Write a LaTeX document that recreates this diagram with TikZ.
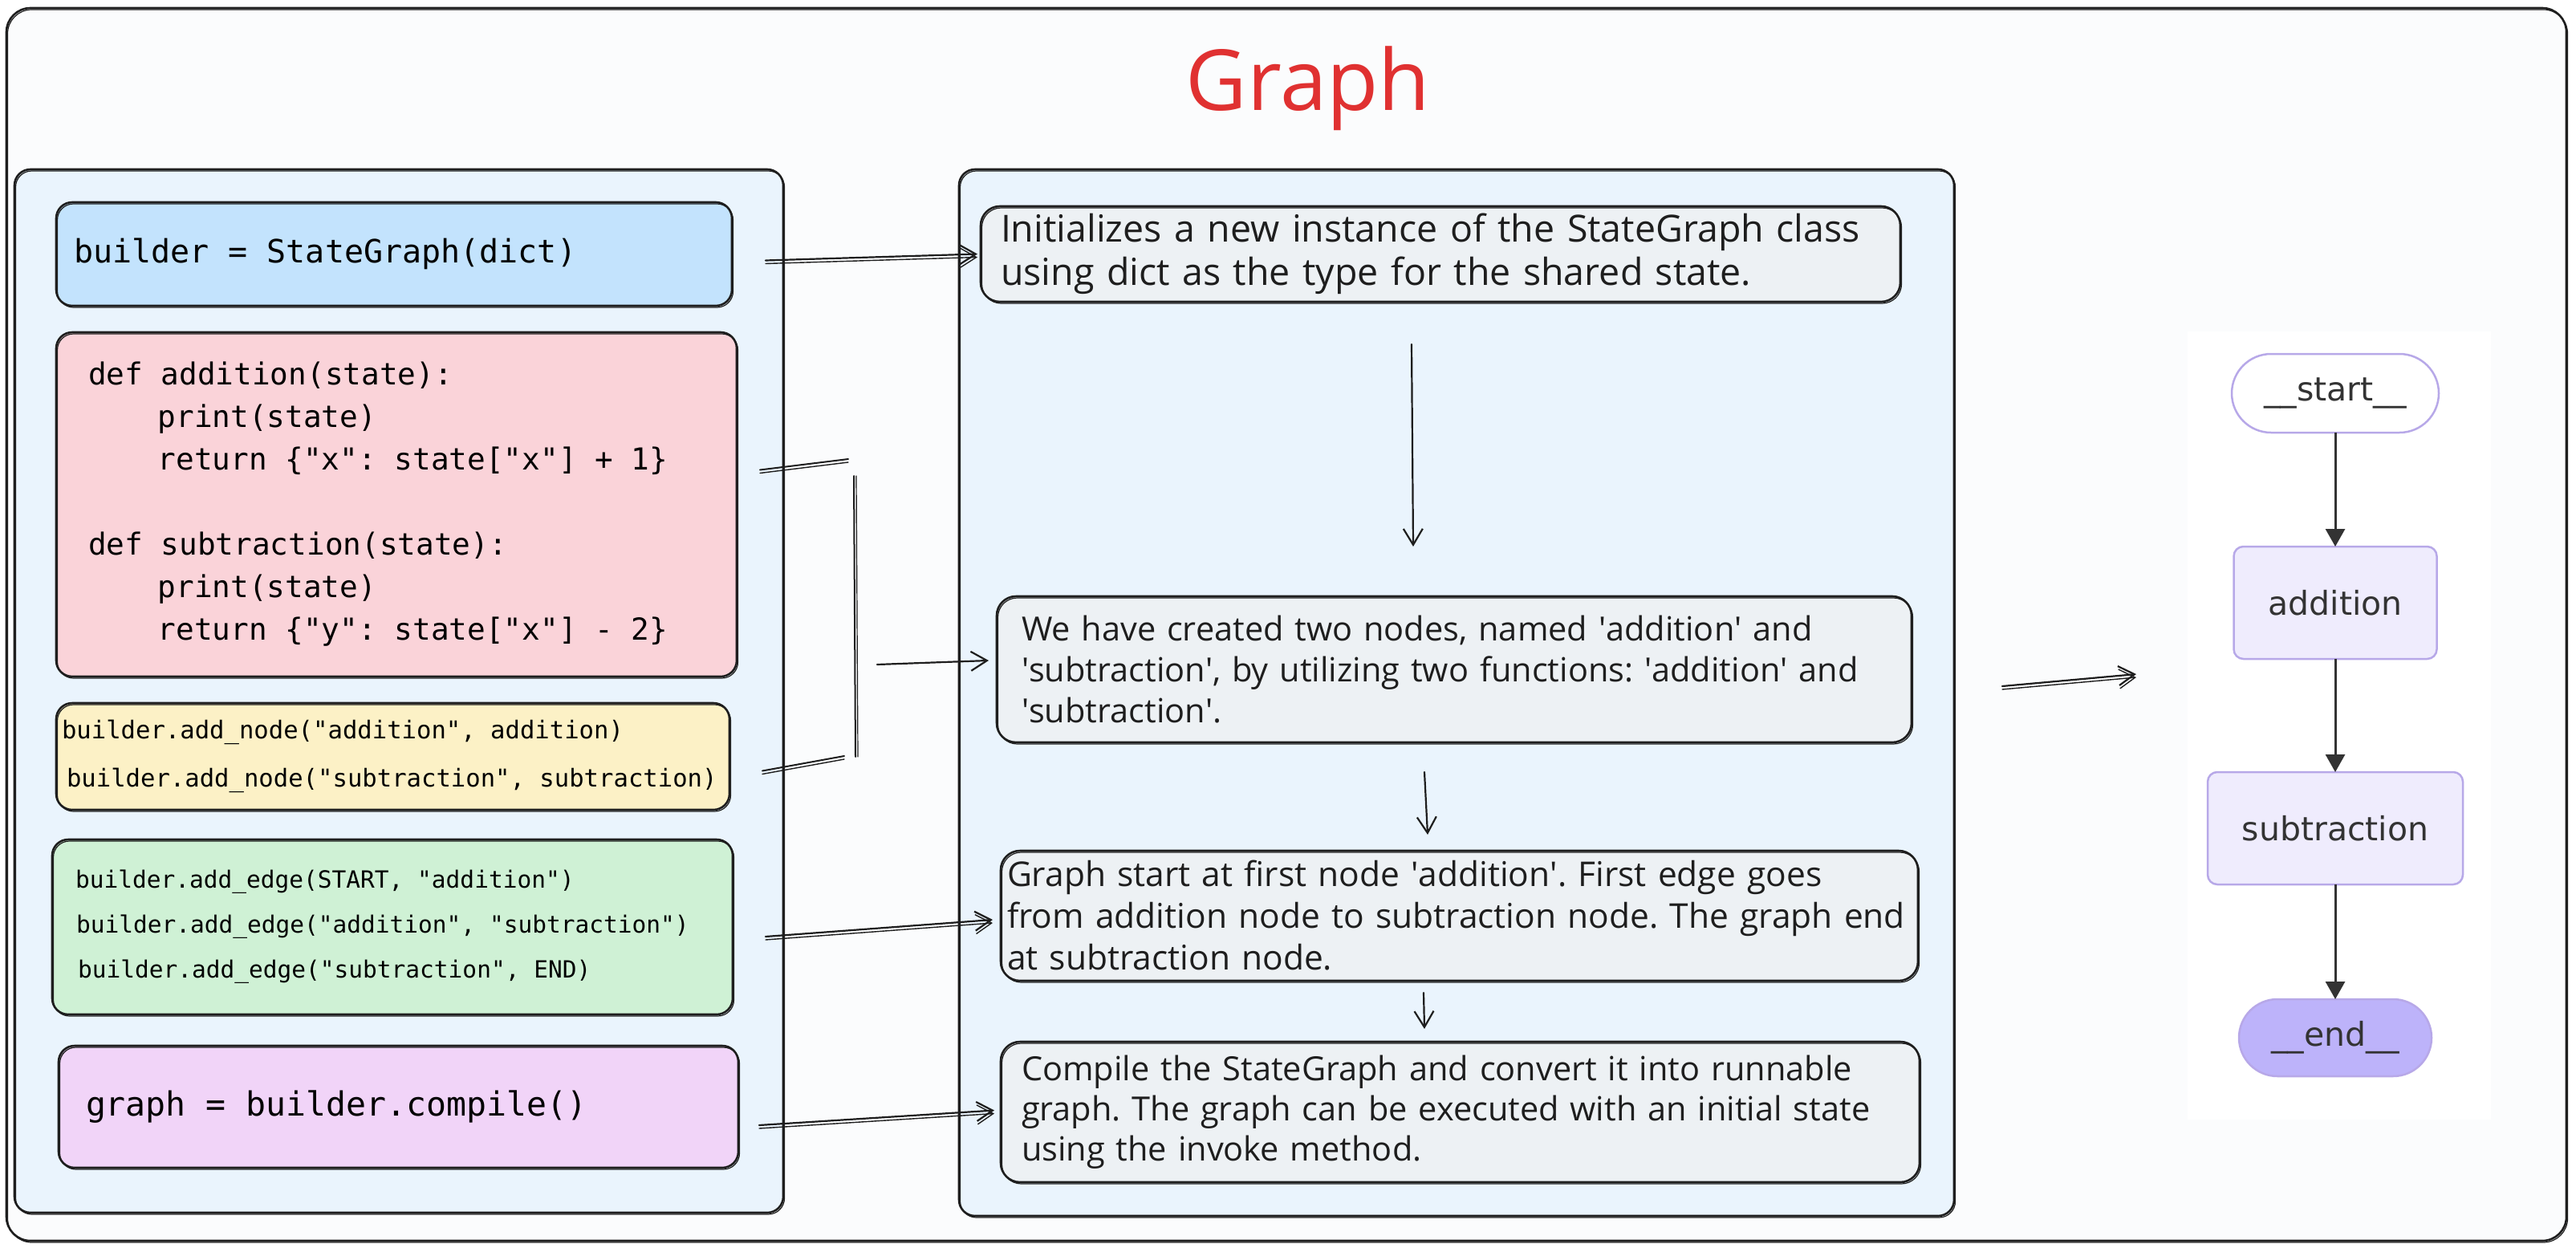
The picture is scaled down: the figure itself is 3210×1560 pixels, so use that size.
\documentclass[tikz,border=0pt]{standalone}
\usepackage{fontspec}
\setmainfont{Open Sans}
\newfontfamily\codefont{DejaVu Sans Mono}
\newfontfamily\graphfont{DejaVu Sans}
\usetikzlibrary{arrows.meta,calc}
\newcommand{\aposq}{\textquotesingle}
\newcommand{\csp}{\hspace*{0.602em}}
\newcommand{\codesize}[2]{\codefont\fontsize{#1}{#2}\selectfont}
\definecolor{ink}{HTML}{1E1E1E}
\definecolor{outerfill}{HTML}{FBFCFD}
\definecolor{panelfill}{HTML}{EAF4FD}
\definecolor{bluefill}{HTML}{C3E3FD}
\definecolor{pinkfill}{HTML}{FAD3D9}
\definecolor{yellowfill}{HTML}{FCF1C6}
\definecolor{greenfill}{HTML}{CFF1D5}
\definecolor{purplefill}{HTML}{F1D4F8}
\definecolor{notefill}{HTML}{EDF1F4}
\definecolor{titlered}{HTML}{E03131}
\definecolor{mmfill}{HTML}{EFECFD}
\definecolor{mmstroke}{HTML}{B7A8E8}
\definecolor{mmend}{HTML}{BDB3FA}
\definecolor{mmtext}{HTML}{333333}
\begin{document}
\frenchspacing
\begin{tikzpicture}[x=1pt,y=-1pt,
  sk/.style={draw=ink, line width=2.6pt, rounded corners=20pt,
    postaction={draw=ink, line width=1.2pt, transform canvas={shift={(1.5,2)}}}},
  panel/.style={sk, fill=panelfill, anchor=north west, inner sep=0pt, outer sep=0pt},
  codebox/.style={sk, anchor=north west, inner ysep=0pt, outer sep=0pt, align=left},
  notebox/.style={sk, fill=notefill, rounded corners=24pt, anchor=north west, inner ysep=0pt, outer sep=0pt, align=left, text=ink},
  conn/.style={draw=ink, line width=2.2pt, line cap=round, -{Straight Barb[length=20pt,width=24pt]}},
  twin/.style={postaction={draw=ink, line width=1.4pt, transform canvas={shift={(0,4)}}}},
  plainline/.style={draw=ink, line width=2pt, line cap=round},
  mmnode/.style={draw=mmstroke, line width=2.5pt, fill=mmfill, rounded corners=12pt, text=mmtext,
    font=\graphfont\fontsize{41}{48}\selectfont, inner sep=0pt, outer sep=0pt},
  mmarrow/.style={draw=mmtext, line width=3pt, -{Triangle[length=22pt,width=24pt]}},
]
\useasboundingbox (0,0) rectangle (3210,1560);
\fill[white] (0,0) rectangle (3210,1560);

% outer frame
\node[sk, fill=outerfill, rounded corners=30pt, anchor=north west, inner sep=0pt, outer sep=0pt,
  minimum width=3190pt, minimum height=1536pt] (outer) at (8,10) {};
\node[font=\fontsize{105}{120}\selectfont, text=titlered, anchor=base] (title) at (1630,138) {Graph};

% panels
\node[panel, minimum width=958pt, minimum height=1300pt] (left) at (18,211) {};
\node[panel, minimum width=1240pt, minimum height=1304pt] (mid) at (1195,211) {};

% code boxes
\node[codebox, fill=bluefill, minimum height=129pt, inner xsep=22pt, text width=798pt,
  font=\codesize{40}{50}] (blue) at (70,252) {builder\csp=\csp StateGraph(dict)};

\node[codebox, fill=pinkfill, minimum height=429pt, inner xsep=40pt, text width=768pt,
  font=\codesize{37.7}{53}] (pink) at (70,414) {def\csp addition(state):\\
\hspace*{2.3em}print(state)\\
\hspace*{2.3em}return\csp\{"x":\csp state["x"]\csp+\csp 1\}\\
\mbox{}\\
def\csp subtraction(state):\\
\hspace*{2.3em}print(state)\\
\hspace*{2.3em}return\csp\{"y":\csp state["x"]\csp-\csp 2\}};

\node[codebox, fill=yellowfill, minimum height=133pt, inner xsep=7pt, text width=825pt,
  font=\codesize{30.6}{60}] (yellow) at (70,876) {builder.add\_node("addition",\csp addition)\\
\hspace*{6pt}builder.add\_node("subtraction",\csp subtraction)};

\node[codebox, fill=greenfill, minimum height=218pt, inner xsep=29pt, text width=790pt,
  font=\codesize{29.5}{56}] (green) at (65,1046) {builder.add\_edge(START,\csp"addition")\\
\hspace*{1pt}builder.add\_edge("addition",\csp"subtraction")\\
\hspace*{3pt}builder.add\_edge("subtraction",\csp END)};

\node[codebox, fill=purplefill, minimum height=152pt, inner xsep=34pt, text width=779pt,
  font=\codesize{41.5}{50}] (purple) at (73,1303) {graph\csp=\csp builder.compile()};

% note boxes
\node[notebox, minimum height=119pt, inner xsep=25pt, text width=1096pt,
  font=\fontsize{46.5}{54}\selectfont] (box1) at (1222,257) {Initializes a new instance of the StateGraph class\\
using dict as the type for the shared state.};

\node[notebox, minimum height=182pt, inner xsep=31pt, text width=1078pt,
  font=\fontsize{41.5}{51}\selectfont] (box2) at (1242,743) {We have created two nodes, named \aposq addition\aposq{} and\\
\aposq subtraction\aposq, by utilizing two functions: \aposq addition\aposq{} and\\
\aposq subtraction\aposq.};

\node[notebox, minimum height=162pt, inner xsep=8pt, text width=1127pt,
  font=\fontsize{42.5}{52}\selectfont] (box3) at (1247,1060) {\mbox{Graph start at first node \aposq addition\aposq. First edge goes}\\
\mbox{from addition node to subtraction node. The graph end}\\
\mbox{at subtraction node.}};

\node[notebox, minimum height=175pt, inner xsep=26pt, text width=1093pt,
  font=\fontsize{41.5}{50}\selectfont] (box4) at (1247,1298) {Compile the StateGraph and convert it into runnable\\
graph. The graph can be executed with an initial state\\
using the invoke method.};

% connectors left -> middle
\draw[conn, twin] ([shift={(42,8)}]blue.east) -- ([shift={(-4,0)}]box1.west);

\coordinate (brTop) at (1057,572);
\coordinate (brA) at (1064,593);
\coordinate (brB) at (1066,943);
\coordinate (brBot) at (1052,942);
\coordinate (brMid) at (1093,828);
\draw[plainline, twin] ([shift={(29,-43)}]pink.east) -- (brTop);
\draw[plainline, postaction={draw=ink, line width=1.2pt, transform canvas={shift={(3,0)}}}] (brA) -- (brB);
\draw[plainline, twin] ([shift={(41,18)}]yellow.east) -- (brBot);
\draw[conn] (brMid) -- ([shift={(-10,-11)}]box2.west);

\draw[conn, twin] ([shift={(41,12)}]green.east) -- ([shift={(-10,5)}]box3.west);
\draw[conn, twin] ([shift={(26,23)}]purple.east) -- ([shift={(-8,-2)}]box4.west);

% connectors within middle
\draw[conn] ([shift={(-36,53)}]box1.south) -- ([shift={(-51,-62)}]box2.north);
\draw[conn] ([shift={(-37,37)}]box2.south) -- ([shift={(-39.5,-20)}]box3.north);
\draw[conn] ([shift={(-44.5,15)}]box3.south) -- ([shift={(-44.5,-16)}]box4.north);

% mermaid graph image
\node[fill=white, anchor=north west, inner sep=0pt, outer sep=0pt,
  minimum width=378pt, minimum height=982pt] (graphimg) at (2726,413) {};
\draw[conn, twin] ([shift={(113,21)}]box2.east) -- ([shift={(-64,-64)}]graphimg.west);

\node[mmnode, fill=white, rounded corners=49pt, minimum width=258pt, minimum height=98pt] (gstart) at (2910,490) {\_\_start\_\_};
\node[mmnode, minimum width=253pt, minimum height=140pt] (gadd) at (2910,751) {addition};
\node[mmnode, minimum width=318pt, minimum height=140pt] (gsub) at (2910,1032) {subtraction};
\node[mmnode, fill=mmend, rounded corners=48pt, minimum width=240pt, minimum height=96pt] (gend) at (2910,1293) {\_\_end\_\_};
\draw[mmarrow] (gstart) -- (gadd);
\draw[mmarrow] (gadd) -- (gsub);
\draw[mmarrow] (gsub) -- (gend);
\end{tikzpicture}
\end{document}
